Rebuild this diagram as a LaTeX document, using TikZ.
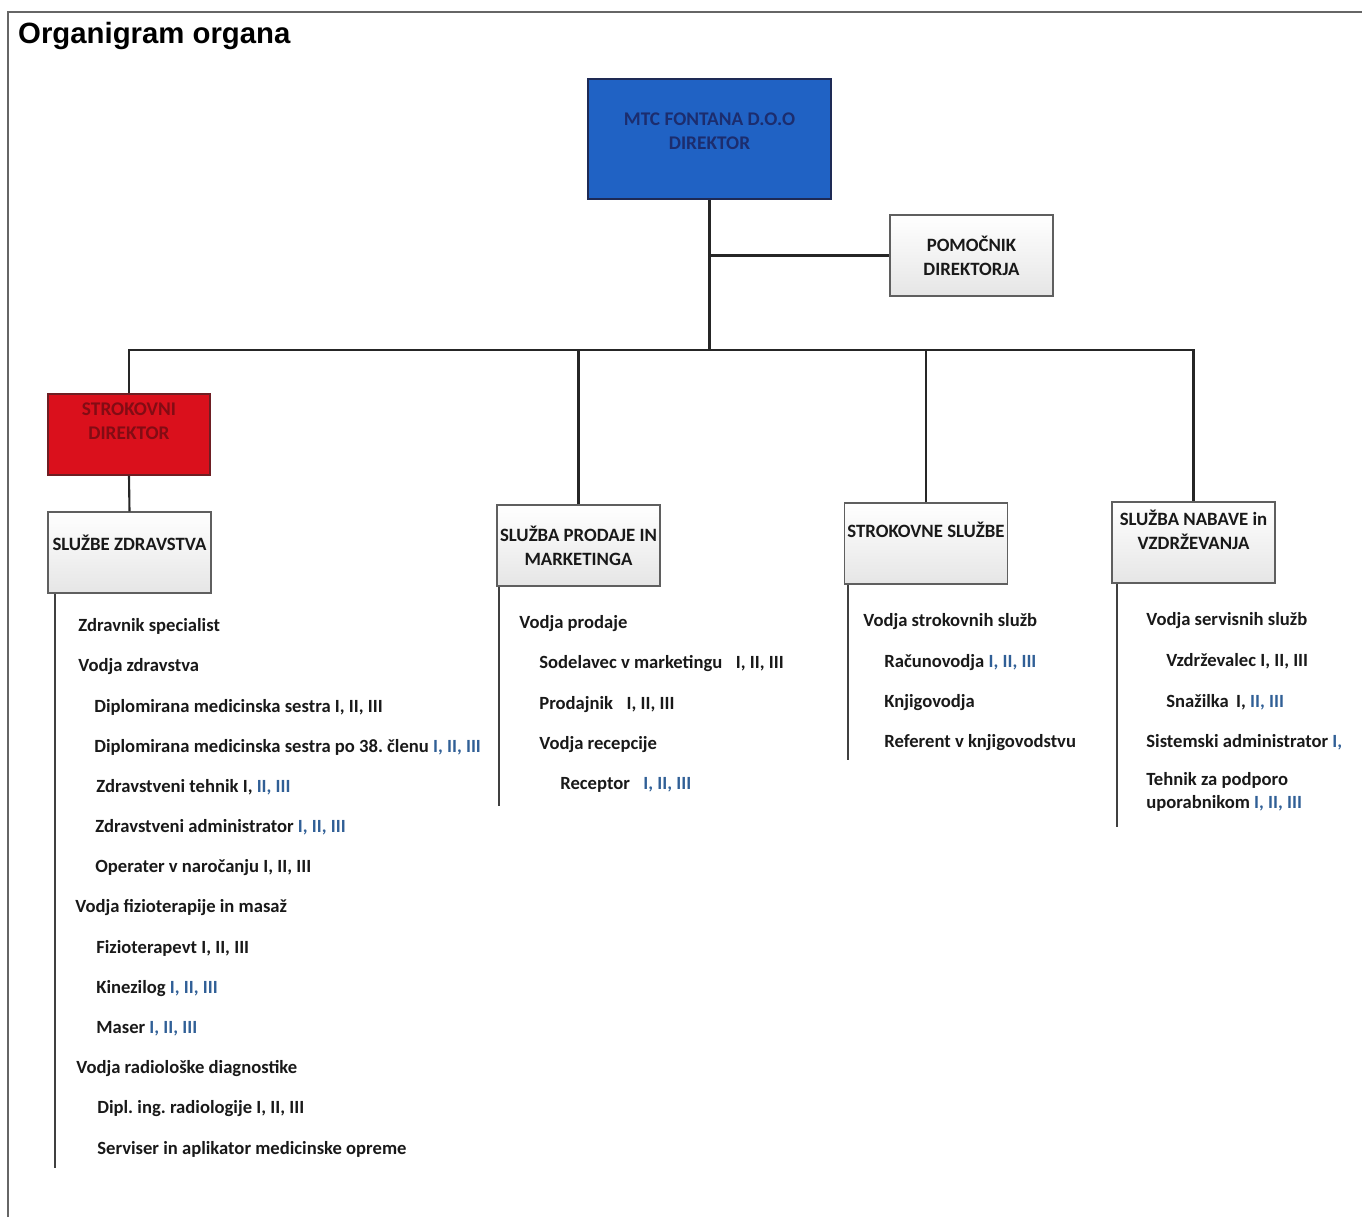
\documentclass[tikz,border=0pt]{standalone}
\usepackage{fontspec}
\setmainfont{Carlito}
\newfontfamily\titlefont{Liberation Sans}
\usetikzlibrary{positioning}

\definecolor{dirblue}{RGB}{32,98,196}
\definecolor{dirtext}{RGB}{28,45,110}
\definecolor{dirline}{RGB}{30,42,85}
\definecolor{strred}{RGB}{218,16,28}
\definecolor{strtext}{RGB}{130,12,20}
\definecolor{strline}{RGB}{110,30,35}
\definecolor{boxline}{RGB}{95,95,95}
\definecolor{rimblue}{RGB}{48,95,150}

\begin{document}
\begin{tikzpicture}[x=0.02cm, y=-0.02cm,
    conn/.style={line width=1.2pt, black!85},
    listline/.style={line width=1.1pt, black!75},
    topbox/.style={draw=dirline, line width=1pt, fill=dirblue, minimum width=4.86cm, minimum height=2.4cm},
    redbox/.style={draw=strline, line width=0.9pt, fill=strred, minimum width=3.24cm, minimum height=1.62cm},
    deptbox/.style={draw=boxline, line width=0.8pt, top color=white, bottom color=black!10, minimum width=3.26cm, minimum height=1.62cm},
    boxtext/.style={font=\bfseries\fontsize{10.7}{13.5}\selectfont, align=center, text=black!90},
    item/.style={font=\bfseries\fontsize{10.6}{13}\selectfont, anchor=west, inner sep=0pt, text=black!90}]

  \useasboundingbox (0,0) rectangle (1362,1217);
  \draw[black!60, line width=0.9pt] (8,1217) -- (8,12) -- (1362,12);
  \node[anchor=west, font=\titlefont\bfseries\fontsize{16.7}{18}\selectfont] (title) at (12,36) {Organigram organa};

  % boxes
  \node[topbox, label={[boxtext, font=\bfseries\fontsize{11}{13.5}\selectfont, text=dirtext, yshift=0.16cm]center:MTC FONTANA D.O.O\\DIREKTOR}] (dir) at (709.5,139) {};
  \node[deptbox, label={[boxtext]center:POMOČNIK\\DIREKTORJA}] (pom) at (971.5,255.5) {};
  \node[redbox, label={[boxtext, font=\bfseries\fontsize{11}{13.5}\selectfont, text=strtext, yshift=0.26cm]center:STROKOVNI\\DIREKTOR}] (stro) at (129,434.5) {};
  \node[deptbox, label={[boxtext, yshift=0.19cm]center:SLUŽBE ZDRAVSTVA}] (zdr) at (129.5,552.5) {};
  \node[deptbox, label={[boxtext]center:SLUŽBA PRODAJE IN\\MARKETINGA}] (prod) at (578.5,545.5) {};
  \node[deptbox, label={[boxtext, yshift=0.27cm]center:STROKOVNE SLUŽBE}] (strs) at (926,543.5) {};
  \node[deptbox, label={[boxtext, yshift=0.26cm]center:SLUŽBA NABAVE in\\VZDRŽEVANJA}] (nab) at (1193.5,542.5) {};

  % connectors
  \coordinate (bus) at (709.5,350);
  \draw[conn] (dir.south) -- (bus);
  \draw[conn] (dir.south |- pom.west) -- (pom.west);
  \draw[conn] (stro.north) |- (nab.north |- bus) -- (nab.north);
  \draw[conn] (prod.north) -- (prod.north |- bus);
  \draw[conn] (strs.north) -- (strs.north |- bus);
  \draw[conn] (stro.south) -- (zdr.north);

  \coordinate (zdrend) at (55,1168);
  \coordinate (prodend) at (499,806);
  \coordinate (strsend) at (848,760);
  \coordinate (nabend) at (1117,827);
  \draw[listline] (zdr.south -| zdrend) -- (zdrend);
  \draw[listline] (prod.south -| prodend) -- (prodend);
  \draw[listline] (strs.south -| strsend) -- (strsend);
  \draw[listline] (nab.south -| nabend) -- (nabend);

  % sluzbe zdravstva
  \node[item] (z1) at (78,626) {Zdravnik specialist};
  \node[item] (z2) at (78,667) {Vodja zdravstva};
  \node[item] (z3) at (94,707) {Diplomirana medicinska sestra I, II, III};
  \node[item] (z4) at (94,747) {Diplomirana medicinska sestra po 38.\ členu \textcolor{rimblue}{I, II, III}};
  \node[item] (z5) at (96,787) {Zdravstveni tehnik I, \textcolor{rimblue}{II, III}};
  \node[item] (z6) at (95,827) {Zdravstveni administrator \textcolor{rimblue}{I, II, III}};
  \node[item] (z7) at (95,868) {Operater v naročanju I, II, III};
  \node[item] (z8) at (75,908) {Vodja fizioterapije in masaž};
  \node[item] (z9) at (96,948) {Fizioterapevt I, II, III};
  \node[item] (z10) at (96,989) {Kinezilog \textcolor{rimblue}{I, II, III}};
  \node[item] (z11) at (96,1029) {Maser \textcolor{rimblue}{I, II, III}};
  \node[item] (z12) at (76,1069) {Vodja radiološke diagnostike};
  \node[item] (z13) at (97,1109) {Dipl.\ ing.\ radiologije I, II, III};
  \node[item] (z14) at (97,1149) {Serviser in aplikator medicinske opreme};

  % prodaja in marketing
  \node[item] (p1) at (519,624) {Vodja prodaje};
  \node[item] (p2) at (539,664) {Sodelavec v marketingu\enspace\ I, II, III};
  \node[item] (p3) at (539,705) {Prodajnik\enspace\ I, II, III};
  \node[item] (p4) at (539,745) {Vodja recepcije};
  \node[item] (p5) at (560,785) {Receptor\enspace\ \textcolor{rimblue}{I, II, III}};

  % strokovne sluzbe
  \node[item] (s1) at (863,622) {Vodja strokovnih služb};
  \node[item] (s2) at (884,663) {Računovodja \textcolor{rimblue}{I, II, III}};
  \node[item] (s3) at (884,703) {Knjigovodja};
  \node[item] (s4) at (884,743) {Referent v knjigovodstvu};

  % nabava in vzdrzevanje
  \node[item] (n1) at (1146,621) {Vodja servisnih služb};
  \node[item] (n2) at (1166,661) {Vzdrževalec I, II, III};
  \node[item] (n3) at (1166,702) {Snažilka\, I, \textcolor{rimblue}{II, III}};
  \node[item] (n4) at (1146,742) {Sistemski administrator \textcolor{rimblue}{I,}};
  \node[item, align=left, anchor=north west] (n5) at (1146,772) {Tehnik za podporo\\uporabnikom \textcolor{rimblue}{I, II, III}};
\end{tikzpicture}
\end{document}
